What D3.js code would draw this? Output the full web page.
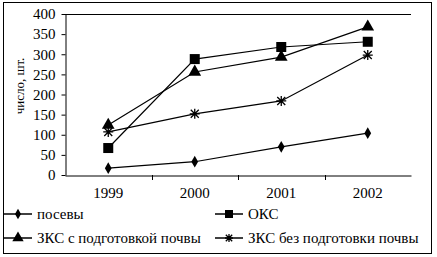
<!DOCTYPE html>
<html>
<head>
<meta charset="utf-8">
<script src="https://cdn.jsdelivr.net/npm/d3@7"></script>
<style>
  html, body { margin: 0; padding: 0; background: #fff; }
  svg { display: block; }
</style>
</head>
<body>
<div id="chart"></div>
<script>
// data
const years = ['1999', '2000', '2001', '2002'];
const posevy = [17, 33, 70, 104];
const oks = [67, 288, 318, 331];
const zksPodg = [124, 256, 293, 368];
const zksBez = [107, 152, 184, 298];
const yTicks = [0, 50, 100, 150, 200, 250, 300, 350, 400];

const series = [
  { name: 'посевы', values: posevy, marker: 'diamond' },
  { name: 'ОКС', values: oks, marker: 'square' },
  { name: 'ЗКС с подготовкой почвы', values: zksPodg, marker: 'triangle' },
  { name: 'ЗКС без подготовки почвы', values: zksBez, marker: 'star' }
];

const W = 437, H = 257;
const font = 'Liberation Serif, Times New Roman, serif';

const svg = d3.select('#chart').append('svg')
  .attr('width', W).attr('height', H);

// outer frame
svg.append('rect')
  .attr('x', 3.5).attr('y', 2.5).attr('width', 428).attr('height', 251)
  .attr('fill', 'none').attr('stroke', '#000').attr('stroke-width', 1);

const x = d3.scaleBand().domain(years).range([65, 411]);
const y = d3.scaleLinear().domain([0, 400]).range([175, 14]);

const g = svg.append('g');

// top border of plot area
g.append('line')
  .attr('x1', 65).attr('x2', 411)
  .attr('y1', y(400) + 0.5).attr('y2', y(400) + 0.5)
  .attr('stroke', '#000');

// y axis
const yAxis = g.append('g')
  .attr('transform', 'translate(65.5,0)')
  .call(d3.axisLeft(y).tickValues(yTicks).tickSize(4).tickSizeOuter(0));
yAxis.select('.domain').attr('stroke', '#000');
yAxis.selectAll('text')
  .attr('font-family', font).attr('font-size', 15).attr('fill', '#000')
  .attr('x', -10);

// x axis
const xAxis = g.append('g')
  .attr('transform', 'translate(0,175.5)')
  .call(d3.axisBottom(x).tickSize(0).tickSizeOuter(0));
xAxis.select('.domain').attr('stroke', '#000');
xAxis.selectAll('text')
  .attr('font-family', font).attr('font-size', 15).attr('fill', '#000')
  .attr('dy', '1.1em').attr('y', 6);
// category separators
g.selectAll('.sep')
  .data(years.slice(1))
  .join('line')
  .attr('x1', d => Math.round(x(d)) + 0.5).attr('x2', d => Math.round(x(d)) + 0.5)
  .attr('y1', 175).attr('y2', 180)
  .attr('stroke', '#000');

// y label
svg.append('text')
  .attr('transform', 'translate(24,86) rotate(-90)')
  .attr('text-anchor', 'middle')
  .attr('font-family', font).attr('font-size', 13)
  .text('число, шт.');

function drawMarker(sel, type, size) {
  const s = size || 1;
  if (type === 'diamond') {
    sel.append('path').attr('d', d3.symbol(d3.symbolDiamond, 40 * s)()).attr('fill', '#000');
  } else if (type === 'square') {
    sel.append('rect').attr('x', -5 * s).attr('y', -5 * s).attr('width', 10 * s).attr('height', 10 * s).attr('fill', '#000');
  } else if (type === 'triangle') {
    sel.append('path').attr('d', d3.symbol(d3.symbolTriangle, 70 * s)()).attr('fill', '#000');
  } else {
    const r = 5 * s;
    sel.append('path')
      .attr('d', `M${-r},0H${r}M0,${-r}V${r}M${-r * 0.8},${-r * 0.8}L${r * 0.8},${r * 0.8}M${-r * 0.8},${r * 0.8}L${r * 0.8},${-r * 0.8}`)
      .attr('stroke', '#000').attr('stroke-width', 1.3).attr('fill', 'none');
  }
}

const line = d3.line()
  .x((d, i) => x(years[i]) + x.bandwidth() / 2)
  .y(d => y(d));

series.forEach(s => {
  g.append('path')
    .attr('d', line(s.values))
    .attr('fill', 'none').attr('stroke', '#000').attr('stroke-width', 1.2);
  s.values.forEach((v, i) => {
    const m = g.append('g')
      .attr('transform', `translate(${x(years[i]) + x.bandwidth() / 2},${y(v)})`);
    drawMarker(m, s.marker);
  });
});

// legend
const legendPos = [[4, 214], [215, 214], [4, 238], [215, 238]];
series.forEach((s, i) => {
  const [lx, ly] = legendPos[i];
  const lg = svg.append('g').attr('transform', `translate(${lx},${ly})`);
  lg.append('line').attr('x1', 0).attr('x2', 28).attr('y1', 0).attr('y2', 0)
    .attr('stroke', '#000').attr('stroke-width', 1.5);
  const m = lg.append('g').attr('transform', 'translate(14,0)');
  drawMarker(m, s.marker, 0.8);
  lg.append('text')
    .attr('x', 33).attr('y', 0).attr('dy', '0.35em')
    .attr('font-family', font).attr('font-size', 15)
    .text(s.name);
});
</script>
</body>
</html>
